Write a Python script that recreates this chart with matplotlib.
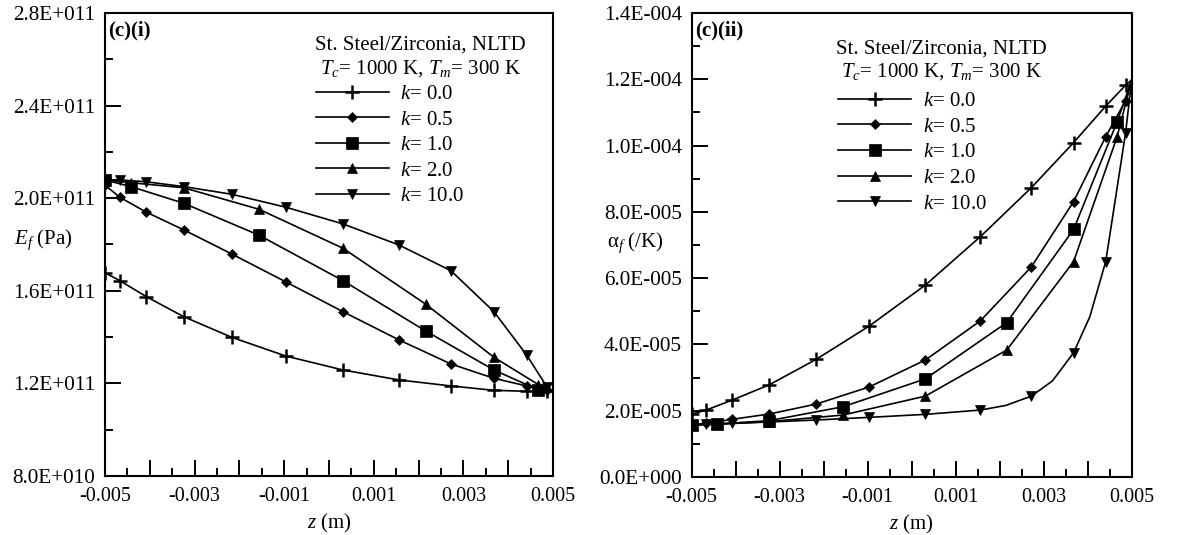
import math

import matplotlib
matplotlib.use("Agg")
import matplotlib.pyplot as plt
import numpy as np
from matplotlib.ticker import FuncFormatter, MultipleLocator

plt.rcParams.update({
    "font.family": ["Liberation Serif", "DejaVu Serif"],
    "mathtext.fontset": "custom",
    "mathtext.rm": "Liberation Serif",
    "mathtext.it": "Liberation Serif:italic",
    "mathtext.bf": "Liberation Serif:bold",
    "font.size": 15,
})

# thickness coordinate (m)
z_fine = [-0.005, -0.00467, -0.00408, -0.00324, -0.00217, -0.00096, 0.00031,
          0.00156, 0.00272, 0.00368, 0.00441, 0.00486, 0.005]
z_coarse = [-0.005, -0.00442, -0.00324, -0.00156, 0.00031, 0.00216, 0.00368,
            0.00467, 0.005]
z_alpha_k10 = [-0.005, -0.00467, -0.00408, -0.00324, -0.00217, -0.00096, 0.00031,
               0.00156, 0.00214, 0.00272, 0.0032, 0.00368, 0.00405, 0.00441,
               0.00486, 0.005]

k_values = [0.0, 0.5, 1.0, 2.0, 10.0]

# Young's modulus, units of 1e11 Pa
E_k0 = [1.678, 1.644, 1.575, 1.488, 1.399, 1.318, 1.258, 1.215, 1.189, 1.170,
        1.166, 1.165, 1.165]
E_k05 = [2.057, 2.004, 1.940, 1.863, 1.759, 1.638, 1.510, 1.388, 1.284, 1.222,
         1.189, 1.172, 1.165]
E_k1 = [2.079, 2.050, 1.978, 1.840, 1.644, 1.426, 1.258, 1.172, 1.165]
E_k2 = [2.079, 2.067, 2.045, 1.952, 1.784, 1.542, 1.313, 1.195, 1.165]
E_k10 = [2.080, 2.079, 2.071, 2.050, 2.017, 1.961, 1.889, 1.798, 1.687, 1.510,
         1.323, 1.186, 1.165]

# thermal expansion coefficient, units of 1e-5 /K
a_k0 = [1.90, 2.02, 2.32, 2.78, 3.55, 4.56, 5.79, 7.25, 8.73, 10.09, 11.19,
        11.82, 11.98]
a_k05 = [1.58, 1.62, 1.74, 1.90, 2.20, 2.72, 3.53, 4.71, 6.34, 8.31, 10.27,
         11.35, 11.98]
a_k1 = [1.57, 1.60, 1.70, 2.12, 2.96, 4.66, 7.47, 10.72, 11.98]
a_k2 = [1.57, 1.59, 1.67, 1.87, 2.44, 3.83, 6.50, 10.27, 11.98]
a_k10 = [1.57, 1.60, 1.62, 1.66, 1.72, 1.80, 1.89, 2.02, 2.16, 2.44, 2.90,
         3.75, 4.84, 6.50, 10.37, 11.98]
a_k10_marks = [1, 2, 3, 4, 5, 6, 7, 9, 11, 13, 14]

styles = [
    dict(marker="+", ms=10, mew=1.8),
    dict(marker="D", ms=5.5, mew=0.5),
    dict(marker="s", ms=8, mew=0.5),
    dict(marker="^", ms=7.5, mew=0.5),
    dict(marker="v", ms=7.5, mew=0.5),
]


def sci_label(v, pos):
    if abs(v) < 1e-30:
        return "0.0E+000"
    exp = int(math.floor(math.log10(abs(v)) + 1e-9))
    mant = v / 10 ** exp
    sign = "+" if exp >= 0 else "-"
    return f"{mant:.1f}E{sign}{abs(exp):03d}"


def z_label(v, pos):
    n = int(round(v * 1000))
    if n % 2 == 0:
        return ""
    return f"{v:.3f}"


def draw_panel(ax, curves, scale, ylim, ystep, tag, legend_xy, title_x, title_y):
    for (z, vals, marks), k, st in zip(curves, k_values, styles):
        ax.plot(z, np.asarray(vals) * scale, color="black", lw=1.2,
                markevery=marks, mfc="black", mec="black",
                label=rf"$k$= {k:.1f}", **st)

    ax.set_xlim(-0.005, 0.005)
    ax.set_ylim(*ylim)
    ax.xaxis.set_major_locator(MultipleLocator(0.001))
    ax.xaxis.set_minor_locator(MultipleLocator(0.0005))
    ax.yaxis.set_major_locator(MultipleLocator(ystep))
    ax.yaxis.set_minor_locator(MultipleLocator(ystep / 2))
    ax.xaxis.set_major_formatter(FuncFormatter(z_label))
    ax.yaxis.set_major_formatter(FuncFormatter(sci_label))
    ax.tick_params(which="both", direction="in", top=False, right=False,
                   width=1.4)
    ax.tick_params(which="major", length=11.5)
    ax.tick_params(which="minor", length=5.8)
    ax.tick_params(axis="x", pad=8, labelsize=14.5)
    ax.tick_params(axis="y", pad=7, labelsize=15.3)
    for sp in ax.spines.values():
        sp.set_linewidth(1.5)

    ax.set_xlabel(r"$z$ (m)", fontsize=15)
    ax.xaxis.set_label_coords(0.5, -0.077)

    ax.text(0.008, 0.962, tag, transform=ax.transAxes, fontsize=15,
            fontweight="bold", va="center", ha="left")

    ax.text(title_x, title_y[0], "St. Steel/Zirconia, NLTD",
            transform=ax.transAxes, ha="center", va="center", fontsize=15)
    ax.text(title_x, title_y[1], r"$T_c$= 1000 K, $T_m$= 300 K",
            transform=ax.transAxes, ha="center", va="center", fontsize=15)

    ax.legend(loc="upper left", bbox_to_anchor=legend_xy, frameon=False,
              fontsize=15, handlelength=3.5, handletextpad=0.55,
              labelspacing=0.29, borderpad=0, borderaxespad=0)


fig = plt.figure(figsize=(11.86, 5.35), dpi=100)
ax1 = fig.add_axes([0.0885, 0.1103, 0.3778, 0.8654])
ax2 = fig.add_axes([0.5832, 0.1084, 0.3710, 0.8673])

fine_marks = list(range(len(z_fine) - 1))
coarse_marks = list(range(len(z_coarse) - 1))

left_curves = [
    (z_fine, E_k0, fine_marks),
    (z_fine, E_k05, fine_marks),
    (z_coarse, E_k1, coarse_marks),
    (z_coarse, E_k2, coarse_marks),
    (z_fine, E_k10, fine_marks[1:]),
]
right_curves = [
    (z_fine, a_k0, fine_marks),
    (z_fine, a_k05, fine_marks),
    (z_coarse, a_k1, coarse_marks),
    (z_coarse, a_k2, coarse_marks),
    (z_alpha_k10, a_k10, a_k10_marks),
]

draw_panel(ax1, left_curves, 1e11, (8e10, 2.8e11), 4e10, "(c)(i)",
           (0.471, 0.846), 0.705, (0.930, 0.881))
draw_panel(ax2, right_curves, 1e-5, (0.0, 1.4e-4), 2e-5, "(c)(ii)",
           (0.333, 0.831), 0.568, (0.922, 0.873))

ax1.set_ylabel(r"$E_f$ (Pa)", rotation=0, fontsize=15, va="center")
ax1.yaxis.set_label_coords(-0.138, 0.51)
ax2.set_ylabel(r"$\mathrm{\alpha}_f$ (/K)", rotation=0, fontsize=15, va="center")
ax2.yaxis.set_label_coords(-0.127, 0.504)

fig.savefig("out.png", dpi=100)
